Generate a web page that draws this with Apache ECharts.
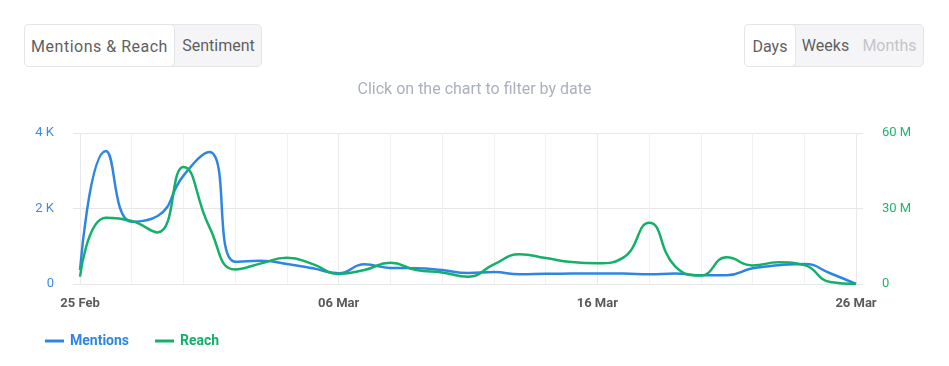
<!DOCTYPE html>
<html>
<head>
<meta charset="utf-8">
<script src="https://cdn.jsdelivr.net/npm/echarts@6/dist/echarts.min.js"></script>
<style>
  html, body { margin: 0; padding: 0; background: #fff; font-family: Roboto, "Noto Sans", sans-serif; }
  #wrap { position: relative; width: 949px; height: 366px; overflow: hidden; }
  #chart { position: absolute; left: 0; top: 0; width: 949px; height: 366px; }
  .grp { position: absolute; top: 24px; height: 43px; box-sizing: border-box; border: 1px solid #e4e5e9; border-radius: 5px; background: #f5f5f8; z-index: 2; }
  .btn { position: absolute; top: -1px; height: 43px; box-sizing: border-box; line-height: 43px; font-size: 16px; color: #5f5f5f; text-align: center; }
  .btn.active { background: #fff; border: 1px solid #e4e5e9; border-radius: 5px; line-height: 41px; padding-top: 1px; }
  .btn.dis { color: #c4c5c9; }
</style>
</head>
<body>
<div id="wrap">
  <div id="chart"></div>
  <div class="grp" style="left:24px;width:238px;">
    <div class="btn active" style="left:-1px;width:151px;letter-spacing:0.5px;">Mentions &amp; Reach</div>
    <div class="btn" style="left:150px;width:87px;">Sentiment</div>
  </div>
  <div class="grp" style="left:744px;width:180px;">
    <div class="btn active" style="left:-1px;width:52px;">Days</div>
    <div class="btn" style="left:51px;width:59px;">Weeks</div>
    <div class="btn dis" style="left:110px;width:69px;">Months</div>
  </div>
</div>
<script>
const dates = ['25 Feb','26 Feb','27 Feb','28 Feb','29 Feb','01 Mar','02 Mar','03 Mar','04 Mar','05 Mar',
  '06 Mar','07 Mar','08 Mar','09 Mar','10 Mar','11 Mar','12 Mar','13 Mar','14 Mar','15 Mar',
  '16 Mar','17 Mar','18 Mar','19 Mar','20 Mar','21 Mar','22 Mar','23 Mar','24 Mar','25 Mar','26 Mar'];
const mentions = [370, 3520, 1650, 1800, 2870, 3500, 590, 615, 530, 415,
  285, 520, 425, 420, 370, 290, 315, 255, 270, 275,
  280, 280, 255, 280, 230, 230, 415, 495, 530, 285, 0];
// Reach in millions
const reach = [2.9, 26.3, 25.0, 20.5, 46.5, 22.7, 5.8, 8.2, 10.4, 7.9,
  4.0, 5.6, 8.4, 5.6, 4.6, 2.9, 7.8, 11.8, 10.3, 8.7,
  8.2, 10.5, 24.3, 7.1, 3.4, 10.6, 7.4, 8.6, 7.5, 0.8, 0];
const leftTicks = { min: 0, max: 4000, interval: 2000 };
const rightTicks = { min: 0, max: 60, interval: 30 };

const BLUE = '#2f86e2';
const GREEN = '#14b06a';
const chart = echarts.init(document.getElementById('chart'));
chart.setOption({
  animation: false,
  textStyle: { fontFamily: 'Roboto' },
  title: {
    text: 'Click on the chart to filter by date',
    left: 'center', top: 77,
    textStyle: { fontSize: 16, fontWeight: 'normal', color: '#aab1bc', fontFamily: 'Roboto' }
  },
  legend: {
    left: 40, top: 329,
    icon: 'rect', itemWidth: 19, itemHeight: 3, itemGap: 26,
    textStyle: { fontSize: 14, fontWeight: 'bold', fontFamily: 'Roboto', padding: [0, 0, 0, 1] },
    data: [
      { name: 'Mentions', textStyle: { color: BLUE } },
      { name: 'Reach', textStyle: { color: GREEN } }
    ]
  },
  grid: { left: 80, right: 93, top: 133, bottom: 82 },
  xAxis: {
    type: 'category',
    data: dates,
    boundaryGap: false,
    axisLine: { show: false },
    axisTick: { show: false },
    axisLabel: {
      interval: (i) => i % 10 === 0,
      margin: 13,
      fontSize: 13, fontWeight: 'bold', color: '#5a5a5a', fontFamily: 'Roboto'
    },
    splitLine: {
      show: true,
      interval: (i) => i % 2 === 0,
      lineStyle: { color: ['#e9e9e9', '#f1f1f1', '#f1f1f1', '#f1f1f1', '#f1f1f1'], width: 1 }
    }
  },
  yAxis: [
    {
      type: 'value', min: leftTicks.min, max: leftTicks.max, interval: leftTicks.interval,
      axisLine: { show: false },
      axisTick: { show: true, length: 7, lineStyle: { color: '#e6e6e6' } },
      axisLabel: {
        margin: 26, fontSize: 13, color: '#3b8ae3', fontFamily: 'Roboto',
        formatter: (v) => v === 0 ? '0' : (v / 1000) + ' K'
      },
      splitLine: { show: true, lineStyle: { color: '#e6e6e6', width: 1 } }
    },
    {
      type: 'value', min: rightTicks.min, max: rightTicks.max, interval: rightTicks.interval,
      position: 'right',
      axisLine: { show: false },
      axisTick: { show: true, length: 7, lineStyle: { color: '#e6e6e6' } },
      axisLabel: {
        margin: 26, fontSize: 13, color: '#1fb46f', fontFamily: 'Roboto',
        formatter: (v) => v === 0 ? '0' : v + ' M'
      },
      splitLine: { show: false }
    }
  ],
  series: [
    {
      name: 'Mentions', type: 'line', yAxisIndex: 0, data: mentions,
      smooth: true, showSymbol: false, symbol: 'none',
      lineStyle: { color: BLUE, width: 2.5 }, itemStyle: { color: BLUE }
    },
    {
      name: 'Reach', type: 'line', yAxisIndex: 1, data: reach,
      smooth: true, showSymbol: false, symbol: 'none',
      lineStyle: { color: GREEN, width: 2.5 }, itemStyle: { color: GREEN }
    }
  ]
});
</script>
</body>
</html>
